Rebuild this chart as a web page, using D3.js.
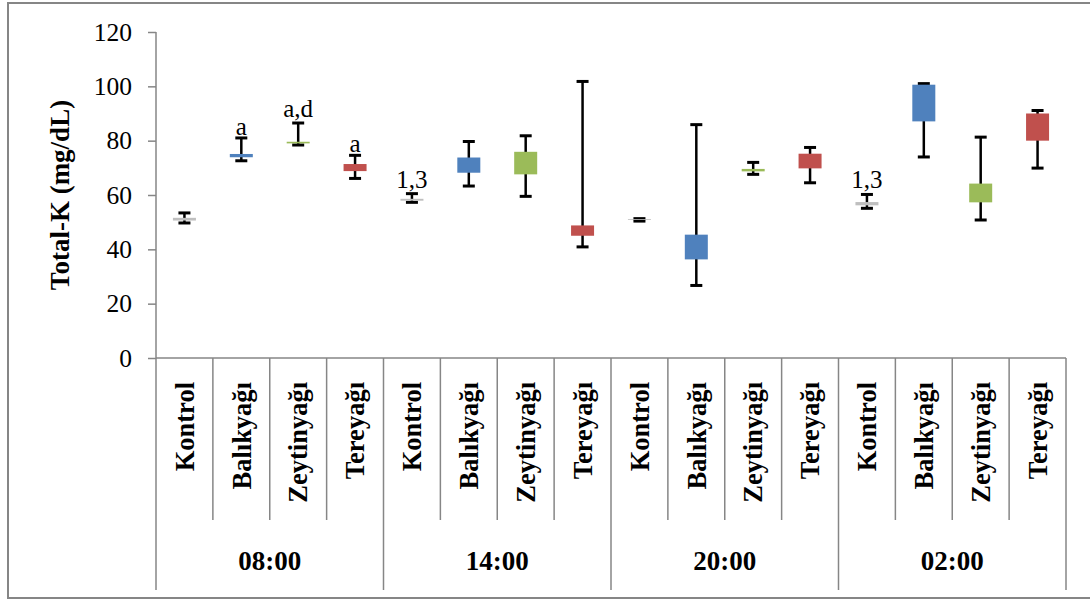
<!DOCTYPE html>
<html>
<head>
<meta charset="utf-8">
<script src="https://cdn.jsdelivr.net/npm/d3@7"></script>
<style>
  body { margin: 0; background: #fff; }
  text { font-family: "Liberation Serif", "Times New Roman", serif; fill: #000; }
</style>
</head>
<body>
<div id="chart"></div>
<script>
var chartWidth = 1090;
var chartHeight = 603;

// Groups (time points) and treatments
var groups = ['08:00', '14:00', '20:00', '02:00'];
var treatments = ['Kontrol', 'Balıkyağı', 'Zeytinyağı', 'Tereyağı'];
var treatmentColors = ['#BFBFBF', '#4F81BD', '#9BBB59', '#C0504D'];

// Values per category, in order group x treatment
var minVals = [49.7, 72.6, 78.4, 66.1, 57.3, 63.3, 59.5, 40.9, 50.4, 26.7, 67.6, 64.5, 55.1, 74.0, 50.8, 69.9];
var lowVals = [50.6, 73.9, 79.0, 68.8, 57.9, 68.2, 67.6, 45.0, 50.8, 36.3, 68.7, 69.8, 56.2, 87.1, 57.3, 80.0];
var highVals = [51.6, 75.1, 79.6, 71.4, 58.6, 73.8, 75.9, 48.8, 51.1, 45.4, 69.6, 75.2, 57.4, 100.6, 64.2, 90.0];
var maxVals = [53.4, 81.0, 86.5, 74.6, 60.5, 79.7, 81.8, 101.8, 51.3, 85.9, 72.0, 77.5, 60.2, 101.0, 81.3, 91.1];
var marks = ['', 'a', 'a,d', 'a', '1,3', '', '', '', '', '', '', '', '1,3', '', '', ''];

var yTicks = [0, 20, 40, 60, 80, 100, 120];

var plotLeft = 156;
var plotRight = 1066;
var plotTop = 32;
var plotBottom = 358;
var axisColor = '#868686';

var data = [];
groups.forEach(function(g, gi) {
  treatments.forEach(function(t, ti) {
    var i = gi * treatments.length + ti;
    data.push({
      index: i, group: g, treatment: t, color: treatmentColors[ti],
      min: minVals[i], low: lowVals[i], high: highVals[i], max: maxVals[i], mark: marks[i]
    });
  });
});

var svg = d3.select('#chart')
    .append('svg')
    .attr('width', chartWidth)
    .attr('height', chartHeight);

// Outer frame
svg.append('rect')
    .attr('x', 8).attr('y', 3)
    .attr('width', 1100).attr('height', 595)
    .attr('fill', 'none')
    .attr('stroke', axisColor)
    .attr('stroke-width', 2);

// Scales
var scaleX = d3.scaleBand()
    .domain(d3.range(data.length))
    .range([plotLeft, plotRight])
    .padding(0);

var scaleY = d3.scaleLinear()
    .domain([0, 120])
    .range([plotBottom, plotTop]);

var bw = scaleX.bandwidth();

// Y axis
var yAxis = svg.append('g')
    .attr('transform', 'translate(' + plotLeft + ',0)')
    .call(d3.axisLeft(scaleY).tickValues(yTicks).tickSize(8).tickPadding(16));
yAxis.select('.domain').remove();
yAxis.selectAll('line').attr('stroke', axisColor).attr('stroke-width', 1.5);
yAxis.selectAll('text')
    .style('font-family', '"Liberation Serif", serif')
    .style('font-size', '25.5px')
    .attr('fill', '#000');

svg.append('line')
    .attr('x1', plotLeft).attr('x2', plotLeft)
    .attr('y1', plotTop).attr('y2', 590)
    .attr('stroke', axisColor).attr('stroke-width', 1.5);

// X axis line
svg.append('line')
    .attr('x1', plotLeft).attr('x2', plotRight)
    .attr('y1', plotBottom).attr('y2', plotBottom)
    .attr('stroke', axisColor).attr('stroke-width', 1.5);

// Category separators
svg.selectAll('line.sep')
    .data(d3.range(1, data.length + 1))
    .enter()
    .append('line')
    .attr('class', 'sep')
    .attr('x1', function(d) { return plotLeft + d * bw; })
    .attr('x2', function(d) { return plotLeft + d * bw; })
    .attr('y1', plotBottom)
    .attr('y2', function(d) { return d % treatments.length === 0 ? 590 : 520; })
    .attr('stroke', axisColor)
    .attr('stroke-width', 1.5);

// Category labels
svg.selectAll('text.cat')
    .data(data)
    .enter()
    .append('text')
    .attr('class', 'cat')
    .attr('transform', function(d) {
      return 'translate(' + (scaleX(d.index) + bw / 2) + ',382) rotate(-90)';
    })
    .attr('dy', '0.35em')
    .attr('text-anchor', 'end')
    .style('font-size', '26.5px')
    .style('font-weight', 'bold')
    .text(function(d) { return d.treatment; });

// Group labels
svg.selectAll('text.grp')
    .data(groups)
    .enter()
    .append('text')
    .attr('class', 'grp')
    .attr('x', function(d, i) {
      return scaleX(i * treatments.length) + bw * treatments.length / 2;
    })
    .attr('y', 570)
    .attr('text-anchor', 'middle')
    .style('font-size', '27px')
    .style('font-weight', 'bold')
    .text(function(d) { return d; });

// Y title
svg.append('text')
    .attr('transform', 'translate(60,' + (plotTop + plotBottom) / 2 + ') rotate(-90)')
    .attr('dy', '0.35em')
    .attr('text-anchor', 'middle')
    .style('font-size', '27px')
    .style('font-weight', 'bold')
    .text('Total-K (mg/dL)');

// Whiskers
var whisk = svg.selectAll('g.whisk')
    .data(data)
    .enter()
    .append('g')
    .attr('class', 'whisk');

whisk.append('line')
    .attr('x1', function(d) { return scaleX(d.index) + bw / 2; })
    .attr('x2', function(d) { return scaleX(d.index) + bw / 2; })
    .attr('y1', function(d) { return scaleY(d.max); })
    .attr('y2', function(d) { return scaleY(d.min); })
    .attr('stroke', '#000')
    .attr('stroke-width', 2.5);

whisk.selectAll('line.cap')
    .data(function(d) { return [d, d]; })
    .enter()
    .append('line')
    .attr('class', 'cap')
    .attr('x1', function(d) { return scaleX(d.index) + bw / 2 - 6; })
    .attr('x2', function(d) { return scaleX(d.index) + bw / 2 + 6; })
    .attr('y1', function(d, i) { return scaleY(i === 0 ? d.max : d.min); })
    .attr('y2', function(d, i) { return scaleY(i === 0 ? d.max : d.min); })
    .attr('stroke', '#000')
    .attr('stroke-width', 3);

// Boxes
svg.selectAll('rect.box')
    .data(data)
    .enter()
    .append('rect')
    .attr('class', 'box')
    .attr('x', function(d) { return scaleX(d.index) + bw / 2 - 11.5; })
    .attr('width', 23)
    .attr('y', function(d) { return scaleY(d.high); })
    .attr('height', function(d) { return scaleY(d.low) - scaleY(d.high); })
    .attr('fill', function(d) { return d.color; });

// Significance marks
svg.selectAll('text.mark')
    .data(data.filter(function(d) { return d.mark; }))
    .enter()
    .append('text')
    .attr('class', 'mark')
    .attr('x', function(d) { return scaleX(d.index) + bw / 2; })
    .attr('y', function(d) {
      return scaleY(d.max) - (d.mark.indexOf(',') >= 0 ? 6 : 3);
    })
    .attr('text-anchor', 'middle')
    .style('font-size', '25px')
    .text(function(d) { return d.mark; });
</script>
</body>
</html>
